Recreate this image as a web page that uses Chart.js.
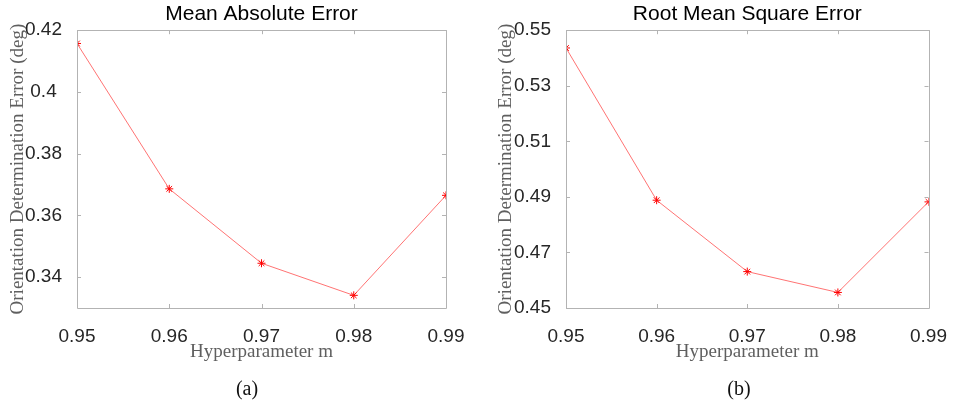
<!DOCTYPE html>
<html>
<head>
<meta charset="utf-8">
<script src="https://cdn.jsdelivr.net/npm/chart.js@4/dist/chart.umd.min.js"></script>
<style>
  html, body { margin: 0; padding: 0; background: #fff; }
  #wrap { position: relative; width: 956px; height: 408px; overflow: hidden; }
  .box { position: absolute; top: 0; height: 408px; }
</style>
</head>
<body>
<div id="wrap">
  <div class="box" style="left:0;width:488px"><canvas id="maeChart"></canvas></div>
  <div class="box" style="left:488px;width:468px"><canvas id="rmseChart"></canvas></div>
</div>
<script>
// ===== data =====
const hyperM = [0.95, 0.96, 0.97, 0.98, 0.99];
const maeValues = [0.4157, 0.3686, 0.3445, 0.3341, 0.3665];
const rmseValues = [0.5436, 0.4888, 0.4631, 0.4556, 0.4882];
const xTicks = [0.95, 0.96, 0.97, 0.98, 0.99];
const maeTicks = [0.34, 0.36, 0.38, 0.40, 0.42];
const rmseTicks = [0.45, 0.47, 0.49, 0.51, 0.53, 0.55];

const colors = {
    frame: '#b3b3b3',
    tickText: '#262626',
    axisTitle: '#5f5f5f',
    line: 'rgba(255, 90, 90, 0.85)',
    marker: '#ff0000',
};

// MATLAB-style box with inward ticks on all four sides, plus the (a)/(b) caption
const matlabFrame = {
    id: 'matlabFrame',
    afterDraw(chart, args, opts) {
        const { ctx, chartArea: a, scales } = chart;
        const len = 4;
        ctx.save();
        ctx.strokeStyle = colors.frame;
        ctx.lineWidth = 1;
        ctx.beginPath();
        ctx.rect(Math.round(a.left) + 0.5, Math.round(a.top) + 0.5,
                 Math.round(a.right - a.left), Math.round(a.bottom - a.top));
        scales.x.ticks.forEach(t => {
            const px = Math.round(scales.x.getPixelForValue(t.value)) + 0.5;
            ctx.moveTo(px, a.bottom); ctx.lineTo(px, a.bottom - len);
            ctx.moveTo(px, a.top); ctx.lineTo(px, a.top + len);
        });
        scales.y.ticks.forEach(t => {
            const py = Math.round(scales.y.getPixelForValue(t.value)) + 0.5;
            ctx.moveTo(a.left, py); ctx.lineTo(a.left + len, py);
            ctx.moveTo(a.right, py); ctx.lineTo(a.right - len, py);
        });
        ctx.stroke();

        ctx.fillStyle = '#111';
        ctx.font = "20px 'Liberation Serif', serif";
        ctx.textAlign = 'center';
        ctx.textBaseline = 'middle';
        ctx.fillText(opts.caption, opts.captionX, 390);
        ctx.restore();
    }
};

function makeChart(canvasId, title, values, yMin, yMax, yTicks, yWidth, rightPad, caption, captionX) {
    return new Chart(document.getElementById(canvasId), {
        type: 'line',
        data: {
            datasets: [{
                data: hyperM.map((m, i) => ({ x: m, y: values[i] })),
                borderColor: colors.line,
                borderWidth: 1,
                pointStyle: 'star',
                pointRadius: 4,
                pointBorderColor: colors.marker,
                pointBackgroundColor: colors.marker,
                pointBorderWidth: 1,
                tension: 0,
            }]
        },
        options: {
            responsive: true,
            maintainAspectRatio: false,
            animation: false,
            layout: { padding: { left: 0, right: rightPad, top: 0, bottom: 0 } },
            plugins: {
                legend: { display: false },
                tooltip: { enabled: false },
                title: {
                    display: true,
                    text: title,
                    fullSize: false,
                    color: '#000',
                    font: { family: "'Liberation Sans', Arial, sans-serif", size: 21, weight: 'normal' },
                    padding: { top: 2, bottom: 3 },
                },
                matlabFrame: { caption, captionX },
            },
            scales: {
                x: {
                    type: 'linear',
                    min: 0.95,
                    max: 0.99,
                    afterFit: s => { s.height = 100; },
                    afterBuildTicks: s => { s.ticks = xTicks.map(v => ({ value: v })); },
                    grid: { display: false },
                    border: { display: false },
                    ticks: {
                        padding: 9,
                        color: colors.tickText,
                        font: { family: "'Liberation Sans', Arial, sans-serif", size: 19 },
                        callback: v => (+v.toFixed(2)).toString(),
                    },
                    title: {
                        display: true,
                        text: 'Hyperparameter m',
                        color: colors.axisTitle,
                        font: { family: "'Liberation Serif', serif", size: 19 },
                        padding: { top: 0, bottom: 45 },
                    }
                },
                y: {
                    min: yMin,
                    max: yMax,
                    afterFit: s => { s.width = yWidth; },
                    afterBuildTicks: s => { s.ticks = yTicks.map(v => ({ value: v })); },
                    grid: { display: false },
                    border: { display: false },
                    ticks: {
                        padding: 7,
                        crossAlign: 'center',
                        color: colors.tickText,
                        font: { family: "'Liberation Sans', Arial, sans-serif", size: 19 },
                        callback: v => (+v.toFixed(2)).toString(),
                    },
                    title: {
                        display: true,
                        text: 'Orientation Determination Error (deg)',
                        color: colors.axisTitle,
                        font: { family: "'Liberation Serif', serif", size: 19 },
                        padding: { top: 7, bottom: 0 },
                    }
                }
            }
        },
        plugins: [matlabFrame]
    });
}

makeChart('maeChart', 'Mean Absolute Error', maeValues, 0.33, 0.42, maeTicks, 77, 42, '(a)', 247);
makeChart('rmseChart', 'Root Mean Square Error', rmseValues, 0.45, 0.55, rmseTicks, 78, 21, '(b)', 251);
</script>
</body>
</html>
